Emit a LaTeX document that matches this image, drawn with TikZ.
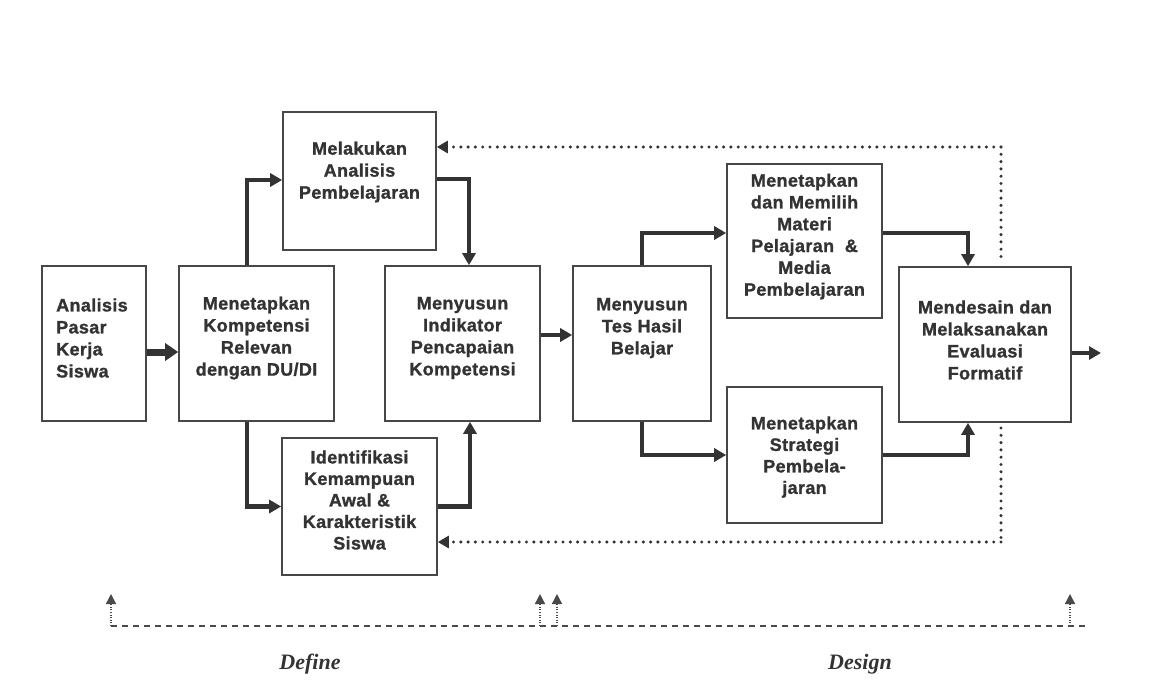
\documentclass[tikz,border=0pt]{standalone}
\usepackage{fontspec}
\setmainfont{Liberation Sans}[LetterSpace=2, BoldFeatures={FakeBold=1.2}]
\newfontfamily\phasefont{Liberation Serif}[BoldFeatures={FakeBold=0.8}]
\usetikzlibrary{arrows.meta,calc}
\definecolor{ink}{HTML}{333333}
\definecolor{rule}{HTML}{474747}
\definecolor{dash}{HTML}{4a4a4a}
\begin{document}
\begin{tikzpicture}[x=1pt,y=-1pt,
  box/.style={draw=rule, line width=1.6pt, fill=white, inner sep=0pt},
  txt/.style={font=\fontsize{18}{22}\selectfont\bfseries, text=ink, align=center, inner sep=0pt},
  flow/.style={draw=ink, line width=4.5pt, -{Triangle[length=12pt,width=13pt]}},
  bigflow/.style={draw=ink, line width=7pt, -{Triangle[length=13pt,width=17pt]}},
  fbline/.style={draw=ink, line width=3.4pt, line cap=round, dash pattern=on 0pt off 7.3pt},
  fbflow/.style={fbline, -{Triangle[length=11pt,width=12pt]}},
  timeline/.style={draw=dash, line width=2.4pt, dash pattern=on 6pt off 5pt},
  stub/.style={draw=dash, line width=1.4pt, dash pattern=on 1pt off 1.6pt, -{Triangle[length=10pt,width=10pt]}},
  phase/.style={font=\phasefont\bfseries\itshape\fontsize{22}{26}\selectfont, text=ink, inner sep=0pt}
]
% page
\fill[white] (0,0) rectangle (1172,693);
\useasboundingbox (0,0) rectangle (1172,693);

% feedback loop (drawn first so the evaluation box covers it)
\coordinate (fbTop) at (1001,147);
\coordinate (fbBot) at (1001,542);
\draw[fbline] (fbTop) -- (1001,258);
\draw[fbline] (1001,428) -- (fbBot);

% boxes
\node[box, minimum width=104pt, minimum height=155pt] (n1) at (94,343.5) {};
\node[box, minimum width=155pt, minimum height=155pt] (n2) at (256.5,343.5) {};
\node[box, minimum width=153pt, minimum height=138pt] (n3) at (359.5,181) {};
\node[box, minimum width=155pt, minimum height=137pt] (n4) at (359.5,506.5) {};
\node[box, minimum width=155pt, minimum height=155pt] (n5) at (462.5,343.5) {};
\node[box, minimum width=138pt, minimum height=155pt] (n6) at (642,343.5) {};
\node[box, minimum width=155pt, minimum height=154pt] (n7) at (804.5,241) {};
\node[box, minimum width=155pt, minimum height=136pt] (n8) at (804.5,455) {};
\node[box, minimum width=172pt, minimum height=155pt] (n9) at (985,344.5) {};

% box texts
\node[txt, align=left, anchor=west] (l1) at (56,338) {Analisis\\Pasar\\Kerja\\Siswa};
\node[txt] (l2) at (256.5,338) {Menetapkan\\Kompetensi\\Relevan\\dengan DU/DI};
\node[txt] (l3) at (359.5,172) {Melakukan\\Analisis\\Pembelajaran};
\node[txt, font=\fontsize{18}{21.5}\selectfont\bfseries] (l4) at (359.5,500) {Identifikasi\\Kemampuan\\Awal \&\\Karakteristik\\Siswa};
\node[txt] (l5) at (462.5,338) {Menyusun\\Indikator\\Pencapaian\\Kompetensi};
\node[txt] (l6) at (642,328) {Menyusun\\Tes Hasil\\Belajar};
\node[txt, font=\fontsize{18}{21.8}\selectfont\bfseries] (l7) at (804.5,236.5) {Menetapkan\\dan Memilih\\Materi\\Pelajaran\ \ \&\\Media\\Pembelajaran};
\node[txt, font=\fontsize{18}{21.5}\selectfont\bfseries] (l8) at (804.5,457) {Menetapkan\\Strategi\\Pembela-\\jaran};
\node[txt] (l9) at (985,340) {Mendesain dan\\Melaksanakan\\Evaluasi\\Formatif};

% main flow
\draw[bigflow] ($(n1.east)+(0,8.5)$) -- ($(n2.west)+(0,8.5)$);
\draw[flow] ($(n2.north)+(-9.5,0)$) |- ($(n3.west)+(0,-1)$);
\draw[flow] ($(n2.south)+(-9.5,0)$) |- (n4.west);
\draw[flow] ($(n3.east)+(0,-2)$) -| ($(n5.north)+(6.5,0)$);
\draw[flow] (n4.east) -| ($(n5.south)+(7.5,0)$);
\draw[flow] ($(n5.east)+(0,-8.5)$) -- ($(n6.west)+(0,-8.5)$);
\draw[flow] (n6.north) |- ($(n7.west)+(0,-8)$);
\draw[flow] (n6.south) |- (n8.west);
\draw[flow] ($(n7.east)+(0,-8)$) -| ($(n9.north)+(-17,0)$);
\draw[flow] (n8.east) -| ($(n9.south)+(-17,0)$);
\coordinate (out) at (1101,353);
\draw[flow] (n9.east |- out) -- (out);

% feedback arrows
\draw[fbflow] (fbTop) -- (fbTop -| n3.east);
\draw[fbflow] (fbBot) -- (fbBot -| n4.east);

% phase timeline
\coordinate (t0) at (111,626);
\coordinate (t1) at (540,626);
\coordinate (t2) at (557,626);
\coordinate (t3) at (1070,626);
\coordinate (tEnd) at (1087,626);
\draw[timeline] (t0) -- (tEnd);
\foreach \p in {t0,t1,t2,t3} {
  \draw[stub] (\p) -- ($(\p)+(0,-32)$);
}
\node[phase] (define) at (310,664) {Define};
\node[phase] (design) at (860,664) {Design};
\end{tikzpicture}
\end{document}
